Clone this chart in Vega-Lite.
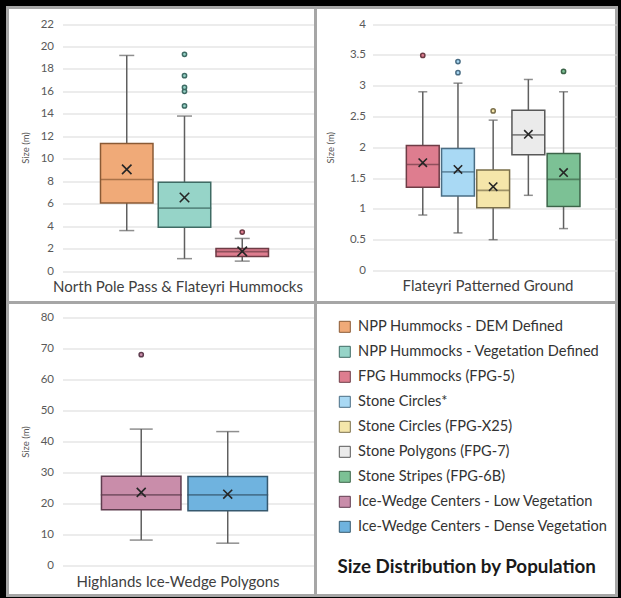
{
  "$schema": "https://vega.github.io/schema/vega-lite/v6.json",
  "background": "black",
  "padding": {"left": 5.5, "top": 5.5, "right": 3.5, "bottom": 1.5},
  "spacing": 0,
  "columns": 2,
  "align": "each",
  "bounds": "flush",
  "datasets": {
    "boxes": [
      {"panel": 1, "pop": "NPP Hummocks - DEM Defined", "min": 3.6, "q1": 6.05, "median": 8.15, "q3": 11.35, "max": 19.2, "mean": 9.05},
      {"panel": 1, "pop": "NPP Hummocks - Vegetation Defined", "min": 1.1, "q1": 3.9, "median": 5.6, "q3": 7.9, "max": 13.8, "mean": 6.55},
      {"panel": 1, "pop": "FPG Hummocks (FPG-5)", "min": 0.88, "q1": 1.3, "median": 1.72, "q3": 2.0, "max": 2.9, "mean": 1.75},
      {"panel": 2, "pop": "FPG Hummocks (FPG-5)", "min": 0.9, "q1": 1.35, "median": 1.72, "q3": 2.03, "max": 2.9, "mean": 1.75},
      {"panel": 2, "pop": "Stone Circles*", "min": 0.61, "q1": 1.21, "median": 1.6, "q3": 1.98, "max": 3.04, "mean": 1.64},
      {"panel": 2, "pop": "Stone Circles (FPG-X25)", "min": 0.5, "q1": 1.02, "median": 1.3, "q3": 1.63, "max": 2.44, "mean": 1.36},
      {"panel": 2, "pop": "Stone Polygons (FPG-7)", "min": 1.22, "q1": 1.88, "median": 2.2, "q3": 2.6, "max": 3.1, "mean": 2.21},
      {"panel": 2, "pop": "Stone Stripes (FPG-6B)", "min": 0.68, "q1": 1.04, "median": 1.48, "q3": 1.9, "max": 2.9, "mean": 1.59},
      {"panel": 3, "pop": "Ice-Wedge Centers - Low Vegetation", "min": 8.2, "q1": 18.0, "median": 22.8, "q3": 28.8, "max": 44.0, "mean": 23.6},
      {"panel": 3, "pop": "Ice-Wedge Centers - Dense Vegetation", "min": 7.2, "q1": 17.7, "median": 22.8, "q3": 28.7, "max": 43.2, "mean": 23.0}
    ],
    "outliers": [
      {"panel": 1, "pop": "NPP Hummocks - Vegetation Defined", "value": 14.7},
      {"panel": 1, "pop": "NPP Hummocks - Vegetation Defined", "value": 16.0},
      {"panel": 1, "pop": "NPP Hummocks - Vegetation Defined", "value": 16.35},
      {"panel": 1, "pop": "NPP Hummocks - Vegetation Defined", "value": 17.4},
      {"panel": 1, "pop": "NPP Hummocks - Vegetation Defined", "value": 19.3},
      {"panel": 1, "pop": "FPG Hummocks (FPG-5)", "value": 3.47},
      {"panel": 2, "pop": "FPG Hummocks (FPG-5)", "value": 3.49},
      {"panel": 2, "pop": "Stone Circles*", "value": 3.21},
      {"panel": 2, "pop": "Stone Circles*", "value": 3.39},
      {"panel": 2, "pop": "Stone Circles (FPG-X25)", "value": 2.59},
      {"panel": 2, "pop": "Stone Stripes (FPG-6B)", "value": 3.23},
      {"panel": 3, "pop": "Ice-Wedge Centers - Low Vegetation", "value": 68.0}
    ]
  },
  "concat": [
    {
      "width": 308, "height": 295,
      "encoding": {
        "x": {"field": "pop", "type": "nominal",
          "scale": {"type": "band", "domain": ["NPP Hummocks - DEM Defined", "NPP Hummocks - Vegetation Defined", "FPG Hummocks (FPG-5)"], "range": [55, 308], "paddingInner": 0.0909, "paddingOuter": 0.736, "align": 0.447},
          "axis": {"title": "North Pole Pass & Flateyri Hummocks", "labels": false, "ticks": false, "domain": false, "grid": false, "titleX": 170, "titleY": -11, "titleBaseline": "alphabetic"}}
      },
      "layer": [
        {"data": {"name": "boxes"}, "transform": [{"filter": "datum.panel == 1"}],
         "mark": {"type": "rule", "color": "#5f5f5f", "strokeWidth": 1.5},
         "encoding": {"y": {"field": "min", "type": "quantitative", "title": "Size (m)", "scale": {"domain": [0, 22], "range": [263.5, 16.5], "nice": false}, "axis": {"values": [0,2,4,6,8,10,12,14,16,18,20,22], "offset": -50, "titleX": -32}}, "y2": {"field": "max"}}},
        {"data": {"name": "boxes"}, "transform": [{"filter": "datum.panel == 1"}],
         "mark": {"type": "tick", "color": "#5f5f5f", "thickness": 1.5, "size": 15},
         "encoding": {"y": {"field": "min", "type": "quantitative", "title": "Size (m)", "scale": {"domain": [0, 22], "range": [263.5, 16.5], "nice": false}, "axis": {"values": [0,2,4,6,8,10,12,14,16,18,20,22], "offset": -50, "titleX": -32}}}},
        {"data": {"name": "boxes"}, "transform": [{"filter": "datum.panel == 1"}],
         "mark": {"type": "tick", "color": "#5f5f5f", "thickness": 1.5, "size": 15},
         "encoding": {"y": {"field": "max", "type": "quantitative", "title": "Size (m)", "scale": {"domain": [0, 22], "range": [263.5, 16.5], "nice": false}, "axis": {"values": [0,2,4,6,8,10,12,14,16,18,20,22], "offset": -50, "titleX": -32}}}},
        {"data": {"name": "boxes"}, "transform": [{"filter": "datum.panel == 1"}],
         "mark": {"type": "bar", "strokeWidth": 1.5},
         "encoding": {"y": {"field": "q1", "type": "quantitative", "title": "Size (m)", "scale": {"domain": [0, 22], "range": [263.5, 16.5], "nice": false}, "axis": {"values": [0,2,4,6,8,10,12,14,16,18,20,22], "offset": -50, "titleX": -32}}, "y2": {"field": "q3"},
           "fill": {"field": "pop", "type": "nominal", "scale": {"domain": ["NPP Hummocks - DEM Defined", "NPP Hummocks - Vegetation Defined", "FPG Hummocks (FPG-5)", "Stone Circles*", "Stone Circles (FPG-X25)", "Stone Polygons (FPG-7)", "Stone Stripes (FPG-6B)", "Ice-Wedge Centers - Low Vegetation", "Ice-Wedge Centers - Dense Vegetation"], "range": ["#F0AA78", "#96D4C8", "#DE7D8F", "#A9D9F4", "#F5E6AA", "#EBEBEB", "#7CC195", "#C98DAA", "#6FB3DF"]},
             "legend": {"orient": "none", "legendX": 330, "legendY": 312, "padding": 0, "symbolType": "square", "symbolSize": 121, "symbolStrokeWidth": 1, "labelFontSize": 14.6, "labelColor": "#333333", "labelOffset": 6, "labelLimit": 400, "rowPadding": 9, "title": "Size Distribution by Population", "titleOrient": "bottom", "titleAnchor": "start", "titleFontSize": 18.8, "titleFontWeight": "bold", "titleColor": "#1a1a1a", "titlePadding": 23, "titleLimit": 500}},
           "stroke": {"field": "pop", "type": "nominal", "scale": {"domain": ["NPP Hummocks - DEM Defined", "NPP Hummocks - Vegetation Defined", "FPG Hummocks (FPG-5)", "Stone Circles*", "Stone Circles (FPG-X25)", "Stone Polygons (FPG-7)", "Stone Stripes (FPG-6B)", "Ice-Wedge Centers - Low Vegetation", "Ice-Wedge Centers - Dense Vegetation"], "range": ["#8A5A35", "#3F6B64", "#6E3C46", "#4A6D84", "#7A6F4A", "#585858", "#3C6449", "#5F3D4F", "#36596F"]}}}},
        {"data": {"name": "boxes"}, "transform": [{"filter": "datum.panel == 1"}],
         "mark": {"type": "tick", "filled": false, "thickness": 0.3, "strokeWidth": 1.4, "size": 52},
         "encoding": {"y": {"field": "median", "type": "quantitative", "title": "Size (m)", "scale": {"domain": [0, 22], "range": [263.5, 16.5], "nice": false}, "axis": {"values": [0,2,4,6,8,10,12,14,16,18,20,22], "offset": -50, "titleX": -32}}, "stroke": {"field": "pop", "type": "nominal"}}},
        {"data": {"name": "boxes"}, "transform": [{"filter": "datum.panel == 1"}],
         "mark": {"type": "point", "shape": "M-1,-1L1,1M1,-1L-1,1", "filled": false, "stroke": "#262626", "strokeWidth": 1.6, "size": 90, "opacity": 1},
         "encoding": {"y": {"field": "mean", "type": "quantitative", "title": "Size (m)", "scale": {"domain": [0, 22], "range": [263.5, 16.5], "nice": false}, "axis": {"values": [0,2,4,6,8,10,12,14,16,18,20,22], "offset": -50, "titleX": -32}}}},
        {"data": {"name": "outliers"}, "transform": [{"filter": "datum.panel == 1"}],
         "mark": {"type": "point", "filled": true, "strokeWidth": 1.5, "size": 18, "opacity": 1},
         "encoding": {"y": {"field": "value", "type": "quantitative", "title": "Size (m)", "scale": {"domain": [0, 22], "range": [263.5, 16.5], "nice": false}, "axis": {"values": [0,2,4,6,8,10,12,14,16,18,20,22], "offset": -50, "titleX": -32}}, "fill": {"field": "pop", "type": "nominal"}, "stroke": {"field": "pop", "type": "nominal"}}}
      ]
    },
    {
      "width": 301, "height": 295,
      "encoding": {
        "x": {"field": "pop", "type": "nominal",
          "scale": {"type": "band", "domain": ["FPG Hummocks (FPG-5)", "Stone Circles*", "Stone Circles (FPG-X25)", "Stone Polygons (FPG-7)", "Stone Stripes (FPG-6B)"], "range": [57, 301], "paddingInner": 0.067, "paddingOuter": 1.135, "align": 0.481},
          "axis": {"title": "Flateyri Patterned Ground", "labels": false, "ticks": false, "domain": false, "grid": false, "titleX": 172, "titleY": -12, "titleBaseline": "alphabetic"}}
      },
      "layer": [
        {"data": {"name": "boxes"}, "transform": [{"filter": "datum.panel == 2"}],
         "mark": {"type": "rule", "color": "#5f5f5f", "strokeWidth": 1.5},
         "encoding": {"y": {"field": "min", "type": "quantitative", "title": "Size (m)", "scale": {"domain": [0, 4], "range": [263, 16.5], "nice": false}, "axis": {"values": [0,0.5,1,1.5,2,2.5,3,3.5,4], "format": "~g", "offset": -54, "titleX": -39}}, "y2": {"field": "max"}}},
        {"data": {"name": "boxes"}, "transform": [{"filter": "datum.panel == 2"}],
         "mark": {"type": "tick", "color": "#5f5f5f", "thickness": 1.5, "size": 9},
         "encoding": {"y": {"field": "min", "type": "quantitative", "title": "Size (m)", "scale": {"domain": [0, 4], "range": [263, 16.5], "nice": false}, "axis": {"values": [0,0.5,1,1.5,2,2.5,3,3.5,4], "format": "~g", "offset": -54, "titleX": -39}}}},
        {"data": {"name": "boxes"}, "transform": [{"filter": "datum.panel == 2"}],
         "mark": {"type": "tick", "color": "#5f5f5f", "thickness": 1.5, "size": 9},
         "encoding": {"y": {"field": "max", "type": "quantitative", "title": "Size (m)", "scale": {"domain": [0, 4], "range": [263, 16.5], "nice": false}, "axis": {"values": [0,0.5,1,1.5,2,2.5,3,3.5,4], "format": "~g", "offset": -54, "titleX": -39}}}},
        {"data": {"name": "boxes"}, "transform": [{"filter": "datum.panel == 2"}],
         "mark": {"type": "bar", "strokeWidth": 1.5},
         "encoding": {"y": {"field": "q1", "type": "quantitative", "title": "Size (m)", "scale": {"domain": [0, 4], "range": [263, 16.5], "nice": false}, "axis": {"values": [0,0.5,1,1.5,2,2.5,3,3.5,4], "format": "~g", "offset": -54, "titleX": -39}}, "y2": {"field": "q3"},
           "fill": {"field": "pop", "type": "nominal"}, "stroke": {"field": "pop", "type": "nominal"}}},
        {"data": {"name": "boxes"}, "transform": [{"filter": "datum.panel == 2"}],
         "mark": {"type": "tick", "filled": false, "thickness": 0.3, "strokeWidth": 1.4, "size": 31.6},
         "encoding": {"y": {"field": "median", "type": "quantitative", "title": "Size (m)", "scale": {"domain": [0, 4], "range": [263, 16.5], "nice": false}, "axis": {"values": [0,0.5,1,1.5,2,2.5,3,3.5,4], "format": "~g", "offset": -54, "titleX": -39}}, "stroke": {"field": "pop", "type": "nominal"}}},
        {"data": {"name": "boxes"}, "transform": [{"filter": "datum.panel == 2"}],
         "mark": {"type": "point", "shape": "M-1,-1L1,1M1,-1L-1,1", "filled": false, "stroke": "#262626", "strokeWidth": 1.6, "size": 70, "opacity": 1},
         "encoding": {"y": {"field": "mean", "type": "quantitative", "title": "Size (m)", "scale": {"domain": [0, 4], "range": [263, 16.5], "nice": false}, "axis": {"values": [0,0.5,1,1.5,2,2.5,3,3.5,4], "format": "~g", "offset": -54, "titleX": -39}}}},
        {"data": {"name": "outliers"}, "transform": [{"filter": "datum.panel == 2"}],
         "mark": {"type": "point", "filled": true, "strokeWidth": 1.5, "size": 18, "opacity": 1},
         "encoding": {"y": {"field": "value", "type": "quantitative", "title": "Size (m)", "scale": {"domain": [0, 4], "range": [263, 16.5], "nice": false}, "axis": {"values": [0,0.5,1,1.5,2,2.5,3,3.5,4], "format": "~g", "offset": -54, "titleX": -39}}, "fill": {"field": "pop", "type": "nominal"}, "stroke": {"field": "pop", "type": "nominal"}}}
      ]
    },
    {
      "width": 308, "height": 293,
      "encoding": {
        "x": {"field": "pop", "type": "nominal",
          "scale": {"type": "band", "domain": ["Ice-Wedge Centers - Low Vegetation", "Ice-Wedge Centers - Dense Vegetation"], "range": [55, 308], "paddingInner": 0.081, "paddingOuter": 0.503, "align": 0.448},
          "axis": {"title": "Highlands Ice-Wedge Polygons", "labels": false, "ticks": false, "domain": false, "grid": false, "titleX": 170, "titleY": -9, "titleBaseline": "alphabetic"}}
      },
      "layer": [
        {"data": {"name": "boxes"}, "transform": [{"filter": "datum.panel == 3"}],
         "mark": {"type": "rule", "color": "#5f5f5f", "strokeWidth": 1.5},
         "encoding": {"y": {"field": "min", "type": "quantitative", "title": "Size (m)", "scale": {"domain": [0, 80], "range": [263, 15], "nice": false}, "axis": {"values": [0,10,20,30,40,50,60,70,80], "offset": -50, "titleX": -32}}, "y2": {"field": "max"}}},
        {"data": {"name": "boxes"}, "transform": [{"filter": "datum.panel == 3"}],
         "mark": {"type": "tick", "color": "#5f5f5f", "thickness": 1.5, "size": 23},
         "encoding": {"y": {"field": "min", "type": "quantitative", "title": "Size (m)", "scale": {"domain": [0, 80], "range": [263, 15], "nice": false}, "axis": {"values": [0,10,20,30,40,50,60,70,80], "offset": -50, "titleX": -32}}}},
        {"data": {"name": "boxes"}, "transform": [{"filter": "datum.panel == 3"}],
         "mark": {"type": "tick", "color": "#5f5f5f", "thickness": 1.5, "size": 23},
         "encoding": {"y": {"field": "max", "type": "quantitative", "title": "Size (m)", "scale": {"domain": [0, 80], "range": [263, 15], "nice": false}, "axis": {"values": [0,10,20,30,40,50,60,70,80], "offset": -50, "titleX": -32}}}},
        {"data": {"name": "boxes"}, "transform": [{"filter": "datum.panel == 3"}],
         "mark": {"type": "bar", "strokeWidth": 1.5},
         "encoding": {"y": {"field": "q1", "type": "quantitative", "title": "Size (m)", "scale": {"domain": [0, 80], "range": [263, 15], "nice": false}, "axis": {"values": [0,10,20,30,40,50,60,70,80], "offset": -50, "titleX": -32}}, "y2": {"field": "q3"},
           "fill": {"field": "pop", "type": "nominal"}, "stroke": {"field": "pop", "type": "nominal"}}},
        {"data": {"name": "boxes"}, "transform": [{"filter": "datum.panel == 3"}],
         "mark": {"type": "tick", "filled": false, "thickness": 0.3, "strokeWidth": 1.4, "size": 79.5},
         "encoding": {"y": {"field": "median", "type": "quantitative", "title": "Size (m)", "scale": {"domain": [0, 80], "range": [263, 15], "nice": false}, "axis": {"values": [0,10,20,30,40,50,60,70,80], "offset": -50, "titleX": -32}}, "stroke": {"field": "pop", "type": "nominal"}}},
        {"data": {"name": "boxes"}, "transform": [{"filter": "datum.panel == 3"}],
         "mark": {"type": "point", "shape": "M-1,-1L1,1M1,-1L-1,1", "filled": false, "stroke": "#262626", "strokeWidth": 1.6, "size": 80, "opacity": 1},
         "encoding": {"y": {"field": "mean", "type": "quantitative", "title": "Size (m)", "scale": {"domain": [0, 80], "range": [263, 15], "nice": false}, "axis": {"values": [0,10,20,30,40,50,60,70,80], "offset": -50, "titleX": -32}}}},
        {"data": {"name": "outliers"}, "transform": [{"filter": "datum.panel == 3"}],
         "mark": {"type": "point", "filled": true, "strokeWidth": 1.5, "size": 18, "opacity": 1},
         "encoding": {"y": {"field": "value", "type": "quantitative", "title": "Size (m)", "scale": {"domain": [0, 80], "range": [263, 15], "nice": false}, "axis": {"values": [0,10,20,30,40,50,60,70,80], "offset": -50, "titleX": -32}}, "fill": {"field": "pop", "type": "nominal"}, "stroke": {"field": "pop", "type": "nominal"}}}
      ]
    },
    {
      "width": 301, "height": 293,
      "view": {"fill": "white", "stroke": "#a6a6a6", "strokeWidth": 3},
      "layer": [
        {"data": {"name": "outliers"}, "transform": [{"filter": "datum.panel == 4"}],
         "mark": {"type": "point", "opacity": 0},
         "encoding": {"x": {"field": "value", "type": "quantitative", "axis": null}, "y": {"field": "value", "type": "quantitative", "axis": null}}}
      ]
    }
  ],
  "resolve": {"scale": {"fill": "shared", "stroke": "shared"}},
  "config": {
    "font": "Lato",
    "concat": {"spacing": 0},
    "view": {"fill": "white", "stroke": "#a6a6a6", "strokeWidth": 3},
    "axisY": {"domain": false, "ticks": false, "grid": true, "gridColor": "#d9d9d9", "gridWidth": 1, "labelFontSize": 11.5, "labelColor": "#595959", "labelPadding": 4, "labelOverlap": false, "titleFontSize": 9.5, "titleFontWeight": "normal", "titleColor": "#595959", "titleBaseline": "middle"},
    "axisX": {"titleFontSize": 15, "titleFontWeight": "normal", "titleColor": "#404040"}
  }
}
